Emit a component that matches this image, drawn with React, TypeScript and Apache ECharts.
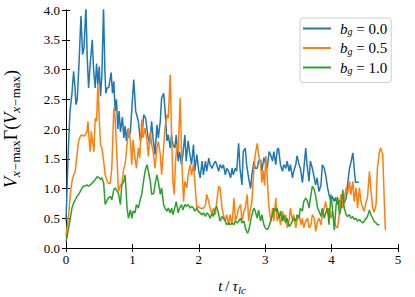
import React, { useEffect, useRef } from "react";
import * as echarts from "echarts";

const X_TICKS = [0, 1, 2, 3, 4, 5];
const Y_TICKS = [0, 0.5, 1, 1.5, 2, 2.5, 3, 3.5, 4];
const LEGEND_NAMES = ["0.0", "0.5", "1.0"];
const COLORS = ["#1f77b4", "#ff7f0e", "#2ca02c"];

const BG0: [number, number][] = [
  [0, 0.45], [0.03, 1.5], [0.06, 2.3], [0.09, 2.6], [0.115, 2.97], [0.135, 2.7], [0.15, 2.41], [0.17, 2.5],
  [0.2, 3.2], [0.225, 3.9], [0.25, 3.25], [0.27, 3.35], [0.3, 4.05], [0.32, 3.2], [0.34, 2.69], [0.365, 3.1],
  [0.395, 3.5], [0.415, 3.0], [0.44, 2.69], [0.46, 3.1], [0.48, 2.75], [0.5, 3.05], [0.52, 2.55], [0.54, 2.9],
  [0.565, 4.05], [0.585, 3.0], [0.6, 2.6], [0.62, 2.69], [0.645, 2.7], [0.68, 2.95], [0.7, 2.6], [0.72, 2.8],
  [0.74, 2.3], [0.76, 2.5], [0.78, 2.0], [0.8, 2.3], [0.82, 1.95], [0.85, 2.2], [0.87, 1.85], [0.89, 2.05],
  [0.91, 1.8], [0.93, 2.0], [0.95, 1.85], [0.97, 1.96], [1.02, 2.83], [1.05, 2.3], [1.09, 2.13], [1.12, 1.8],
  [1.15, 1.96], [1.17, 2.24], [1.2, 2.18], [1.23, 1.9], [1.26, 1.74], [1.29, 2.13], [1.31, 1.85], [1.34, 1.57],
  [1.37, 2.07], [1.39, 1.85], [1.42, 2.13], [1.44, 2.52], [1.47, 2.6], [1.49, 2.35], [1.52, 1.8], [1.54, 1.9],
  [1.57, 1.68], [1.59, 1.9], [1.61, 1.74], [1.64, 1.68], [1.66, 1.9], [1.69, 1.46], [1.71, 1.62], [1.74, 1.4],
  [1.76, 1.57], [1.79, 1.9], [1.81, 1.46], [1.84, 1.8], [1.86, 1.62], [1.89, 1.4], [1.92, 1.74], [1.94, 1.29],
  [1.97, 1.57], [2.0, 1.29], [2.02, 1.18], [2.05, 1.46], [2.07, 1.23], [2.1, 1.46], [2.12, 1.29], [2.15, 1.51],
  [2.17, 1.4], [2.2, 1.34], [2.22, 1.4], [2.25, 1.46], [2.27, 1.4], [2.3, 1.29], [2.32, 1.4], [2.35, 1.34],
  [2.37, 1.4], [2.4, 1.23], [2.42, 1.34], [2.45, 1.29], [2.48, 1.18], [2.5, 1.34], [2.52, 1.23], [2.55, 1.34],
  [2.57, 1.29], [2.6, 1.76], [2.62, 1.34], [2.65, 1.06], [2.67, 1.62], [2.7, 1.68], [2.72, 1.4], [2.75, 1.18],
  [2.78, 1.0], [2.8, 1.23], [2.83, 1.46], [2.85, 1.34], [2.88, 1.34], [2.9, 1.46], [2.93, 1.48], [2.95, 1.29],
  [2.98, 1.52], [3.01, 1.4], [3.03, 1.34], [3.06, 1.62], [3.08, 1.57], [3.11, 1.46], [3.13, 1.62], [3.16, 1.4],
  [3.18, 1.65], [3.2, 1.68], [3.23, 1.4], [3.26, 1.29], [3.28, 1.4], [3.31, 1.34], [3.33, 1.46], [3.36, 1.29],
  [3.38, 1.4], [3.41, 1.18], [3.43, 1.29], [3.46, 1.4], [3.48, 1.55], [3.51, 1.4], [3.53, 1.34], [3.56, 1.1],
  [3.58, 1.3], [3.61, 1.68], [3.63, 1.4], [3.66, 1.12], [3.68, 1.46], [3.71, 1.34], [3.73, 1.23], [3.76, 1.06],
  [3.78, 1.18], [3.81, 0.95], [3.84, 1.06], [3.86, 1.4], [3.89, 1.34], [3.91, 1.23], [3.94, 1.01], [3.96, 0.9],
  [3.99, 0.78], [4.01, 0.87], [4.04, 0.78], [4.06, 0.85], [4.09, 0.73], [4.12, 0.81], [4.14, 0.67], [4.17, 0.78],
  [4.19, 0.76], [4.22, 0.84], [4.24, 1.06], [4.27, 1.34], [4.29, 1.43], [4.32, 1.6], [4.34, 1.34], [4.36, 1.1],
  [4.41, 1.11],
];

const BG05: [number, number][] = [
  [0, 0.2], [0.04, 0.56], [0.065, 0.9], [0.09, 1.12], [0.115, 1.23], [0.14, 1.29], [0.166, 1.57], [0.19, 1.79],
  [0.216, 1.88], [0.24, 1.9], [0.266, 1.88], [0.29, 1.9], [0.316, 1.96], [0.33, 2.13], [0.35, 1.79], [0.366, 1.62],
  [0.38, 1.96], [0.4, 1.79], [0.42, 1.62], [0.44, 2.18], [0.46, 2.13], [0.48, 2.75], [0.5, 2.18], [0.52, 1.74],
  [0.54, 1.68], [0.567, 1.46], [0.59, 1.23], [0.62, 1.12], [0.64, 1.09], [0.667, 1.09], [0.69, 1.34], [0.72, 2.35],
  [0.74, 2.18], [0.77, 1.46], [0.79, 0.95], [0.82, 1.06], [0.84, 1.06], [0.87, 1.34], [0.89, 1.4], [0.92, 1.74],
  [0.94, 2.02], [0.97, 1.79], [0.99, 1.4], [1.01, 1.82], [1.04, 1.51], [1.06, 1.34], [1.09, 1.68], [1.11, 1.51],
  [1.14, 2.16], [1.16, 1.85], [1.19, 2.02], [1.22, 1.79], [1.24, 1.54], [1.27, 1.96], [1.29, 1.74], [1.32, 1.57],
  [1.34, 1.34], [1.37, 1.68], [1.39, 1.79], [1.42, 1.57], [1.44, 1.23], [1.47, 1.68], [1.49, 2.02], [1.52, 2.24],
  [1.54, 2.18], [1.57, 2.91], [1.59, 1.9], [1.61, 1.12], [1.63, 0.9], [1.65, 1.46], [1.67, 1.74], [1.69, 1.62],
  [1.72, 2.52], [1.74, 1.57], [1.77, 0.78], [1.79, 1.12], [1.82, 1.01], [1.84, 1.23], [1.87, 1.4], [1.89, 1.23],
  [1.92, 1.4], [1.94, 1.12], [1.97, 0.67], [1.99, 0.7], [2.02, 0.67], [2.05, 0.67], [2.07, 0.67], [2.1, 0.73],
  [2.12, 0.9], [2.15, 0.78], [2.17, 0.67], [2.2, 0.56], [2.22, 0.67], [2.25, 0.56], [2.27, 0.78], [2.3, 1.04],
  [2.32, 1.01], [2.35, 0.67], [2.37, 0.56], [2.4, 0.45], [2.42, 0.56], [2.45, 0.39], [2.47, 0.56], [2.5, 0.39],
  [2.53, 0.84], [2.55, 0.45], [2.58, 0.56], [2.6, 0.67], [2.63, 0.73], [2.65, 0.45], [2.68, 0.62], [2.7, 0.67],
  [2.73, 0.9], [2.75, 0.45], [2.78, 0.67], [2.8, 0.78], [2.83, 1.34], [2.85, 1.57], [2.88, 1.76], [2.9, 1.57],
  [2.93, 1.4], [2.95, 1.1], [2.97, 1.3], [2.99, 1.05], [3.01, 1.55], [3.03, 1.2], [3.05, 0.78], [3.07, 0.56],
  [3.09, 0.45], [3.11, 0.67], [3.13, 0.45], [3.16, 0.84], [3.18, 0.45], [3.21, 0.56], [3.23, 0.39], [3.26, 0.62],
  [3.28, 0.45], [3.31, 0.56], [3.33, 0.34], [3.36, 0.45], [3.38, 0.67], [3.41, 0.45], [3.43, 0.56], [3.46, 0.34],
  [3.48, 0.45], [3.51, 0.56], [3.54, 0.39], [3.56, 0.5], [3.58, 0.34], [3.61, 0.45], [3.64, 0.5], [3.66, 0.34],
  [3.69, 0.39], [3.71, 0.56], [3.74, 0.5], [3.76, 0.28], [3.79, 0.45], [3.81, 0.5], [3.84, 0.39], [3.86, 0.56],
  [3.89, 0.67], [3.91, 0.78], [3.94, 0.56], [3.96, 0.67], [3.99, 0.5], [4.01, 0.62], [4.04, 0.45], [4.07, 0.35],
  [4.09, 0.34], [4.12, 0.6], [4.14, 0.9], [4.17, 0.67], [4.19, 0.84], [4.22, 1.01], [4.24, 0.9], [4.27, 1.12],
  [4.29, 0.9], [4.32, 1.12], [4.34, 0.78], [4.37, 1.01], [4.39, 0.67], [4.42, 1.01], [4.44, 0.78], [4.47, 0.67],
  [4.49, 0.62], [4.52, 0.78], [4.54, 0.84], [4.57, 1.29], [4.59, 1.01], [4.62, 0.67], [4.64, 0.6], [4.67, 0.73],
  [4.69, 1.34], [4.72, 1.62], [4.74, 1.68], [4.77, 1.57], [4.79, 0.9], [4.81, 0.3],
];

const BG1: [number, number][] = [
  [0, 0.1], [0.04, 0.34], [0.065, 0.5], [0.09, 0.67], [0.115, 0.76], [0.14, 0.81], [0.166, 0.87], [0.19, 0.9],
  [0.216, 0.95], [0.24, 1.01], [0.266, 1.04], [0.29, 1.04], [0.316, 1.06], [0.34, 1.04], [0.366, 1.06], [0.39, 1.09],
  [0.42, 1.12], [0.44, 1.15], [0.47, 1.2], [0.5, 1.18], [0.52, 1.15], [0.54, 1.18], [0.567, 1.09], [0.59, 0.73],
  [0.62, 0.81], [0.64, 0.84], [0.667, 0.87], [0.69, 0.81], [0.72, 0.98], [0.74, 1.01], [0.77, 0.95], [0.79, 0.92],
  [0.82, 0.73], [0.84, 1.06], [0.87, 1.12], [0.89, 1.23], [0.92, 0.67], [0.94, 0.5], [0.97, 0.64], [0.99, 0.5],
  [1.01, 0.62], [1.04, 0.59], [1.06, 0.73], [1.09, 0.67], [1.11, 0.78], [1.14, 0.9], [1.16, 1.06], [1.19, 1.29],
  [1.22, 1.4], [1.24, 1.29], [1.27, 1.12], [1.29, 0.9], [1.32, 0.92], [1.34, 1.06], [1.37, 1.23], [1.39, 1.12],
  [1.42, 0.9], [1.44, 1.01], [1.47, 0.73], [1.49, 0.67], [1.52, 0.62], [1.54, 0.67], [1.57, 0.59], [1.59, 0.67],
  [1.61, 0.56], [1.63, 0.64], [1.66, 0.78], [1.69, 0.59], [1.71, 0.67], [1.74, 0.73], [1.76, 0.64], [1.79, 0.73],
  [1.81, 0.7], [1.84, 0.73], [1.87, 0.67], [1.89, 0.7], [1.92, 0.67], [1.94, 0.62], [1.97, 0.67], [1.99, 0.62],
  [2.02, 0.59], [2.05, 0.56], [2.07, 0.59], [2.1, 0.53], [2.12, 0.59], [2.15, 0.56], [2.17, 0.5], [2.2, 0.59],
  [2.22, 0.53], [2.25, 0.67], [2.27, 0.7], [2.3, 0.56], [2.32, 0.45], [2.35, 0.53], [2.37, 0.5], [2.4, 0.45],
  [2.42, 0.39], [2.45, 0.42], [2.47, 0.39], [2.5, 0.42], [2.53, 0.39], [2.55, 0.45], [2.58, 0.42], [2.6, 0.45],
  [2.63, 0.5], [2.65, 0.42], [2.68, 0.45], [2.7, 0.34], [2.73, 0.25], [2.75, 0.28], [2.78, 0.45], [2.8, 0.56],
  [2.83, 0.67], [2.85, 0.62], [2.88, 0.5], [2.9, 0.64], [2.93, 0.45], [2.95, 0.56], [2.98, 0.39], [3.0, 0.34],
  [3.03, 0.31], [3.05, 0.34], [3.08, 0.45], [3.11, 0.56], [3.13, 0.67], [3.16, 0.62], [3.18, 0.67], [3.21, 0.5],
  [3.23, 0.62], [3.26, 0.45], [3.28, 0.56], [3.31, 0.42], [3.33, 0.5], [3.36, 0.36], [3.38, 0.39], [3.41, 0.45],
  [3.43, 0.5], [3.46, 0.45], [3.48, 0.56], [3.51, 0.5], [3.53, 0.67], [3.56, 0.62], [3.58, 0.78], [3.61, 0.84],
  [3.64, 0.78], [3.66, 0.67], [3.69, 0.9], [3.71, 1.04], [3.74, 0.98], [3.76, 0.87], [3.79, 0.67], [3.81, 0.62],
  [3.84, 0.53], [3.86, 0.67], [3.89, 0.5], [3.91, 0.59], [3.94, 0.67], [3.96, 0.39], [3.99, 0.9], [4.01, 0.7],
  [4.04, 0.3], [4.07, 0.75], [4.09, 0.86], [4.12, 0.56], [4.14, 0.67], [4.17, 0.98], [4.19, 0.67], [4.22, 0.56],
  [4.24, 0.53], [4.27, 0.56], [4.29, 0.5], [4.32, 0.53], [4.34, 0.48], [4.37, 0.5], [4.39, 0.45], [4.42, 0.48],
  [4.44, 0.45], [4.47, 0.42], [4.49, 0.45], [4.52, 0.5], [4.54, 0.53], [4.57, 0.64], [4.59, 0.56], [4.62, 0.5],
  [4.64, 0.45], [4.67, 0.42], [4.69, 0.39], [4.72, 0.39],
];

const SERIES_DATA = [BG0, BG05, BG1];
const SERIF = "Liberation Serif";

export default function App() {
  const ref = useRef<HTMLDivElement>(null);
  useEffect(() => {
    if (!ref.current) return;
    const chart = echarts.init(ref.current, undefined, { renderer: "svg" });
    const axisLine = { show: true, lineStyle: { color: "#000", width: 1 } };
    const tick = { show: true, inside: true, length: 4, lineStyle: { color: "#000", width: 1 } };
    const names = LEGEND_NAMES.map((v) => "b_g = " + v);
    chart.setOption({
      animation: false,
      backgroundColor: "#fff",
      textStyle: { fontFamily: SERIF, color: "#000" },
      grid: { left: 66, right: 17, top: 10, bottom: 49, outerBoundsMode: "none", containLabel: false },
      legend: {
        orient: "vertical",
        left: 300,
        top: 18,
        data: names.map((n) => ({ name: n, icon: "rect" })),
        itemWidth: 28,
        itemHeight: 2,
        itemGap: 4,
        padding: [3, 4, 7, 3],
        backgroundColor: "rgba(255,255,255,0.8)",
        borderColor: "#cccccc",
        borderWidth: 1,
        borderRadius: 3,
        formatter: (name: string) => {
          const v = name.split("= ")[1];
          return `{i|b}{s|g}{n| = ${v}}`;
        },
        textStyle: {
          fontFamily: SERIF,
          padding: [0, 0, 0, 4],
          rich: {
            i: { fontFamily: SERIF, fontStyle: "italic", fontSize: 15, color: "#000", lineHeight: 16 },
            s: { fontFamily: SERIF, fontStyle: "italic", fontSize: 10, color: "#000", lineHeight: 10, verticalAlign: "bottom" },
            n: { fontFamily: SERIF, fontSize: 15, color: "#000", lineHeight: 16 },
          },
        },
      },
      xAxis: [
        {
          type: "value",
          min: X_TICKS[0],
          max: X_TICKS[X_TICKS.length - 1],
          interval: 1,
          axisLine,
          axisTick: tick,
          splitLine: { show: false },
          axisLabel: { color: "#000", fontFamily: SERIF, fontSize: 13, margin: 5 },
          name: "{t|t} {n|/} {t|τ}{s|lc}",
          nameLocation: "middle",
          nameGap: 29,
          nameTextStyle: {
            fontFamily: SERIF,
            rich: {
              t: { fontFamily: SERIF, fontStyle: "italic", fontSize: 15, color: "#000", lineHeight: 18 },
              n: { fontFamily: SERIF, fontSize: 15, color: "#000", lineHeight: 18 },
              s: { fontFamily: SERIF, fontStyle: "italic", fontSize: 11, color: "#000", lineHeight: 11, verticalAlign: "bottom" },
            },
          },
        },
        {
          type: "value",
          position: "top",
          min: X_TICKS[0],
          max: X_TICKS[X_TICKS.length - 1],
          interval: 1,
          axisLine,
          axisTick: tick,
          axisLabel: { show: false },
          splitLine: { show: false },
        },
      ],
      yAxis: [
        {
          type: "value",
          min: Y_TICKS[0],
          max: Y_TICKS[Y_TICKS.length - 1],
          interval: 0.5,
          axisLine,
          axisTick: tick,
          splitLine: { show: false },
          axisLabel: {
            color: "#000",
            fontFamily: SERIF,
            fontSize: 13,
            margin: 6,
            formatter: (v: number) => v.toFixed(1),
          },
          name: "{v|V}{s|x−}{r|max}{g|Γ(}{v|V}{s|x−}{r|max}{g|)}",
          nameLocation: "middle",
          nameRotate: 90,
          nameGap: 44,
          nameTextStyle: {
            fontFamily: SERIF,
            rich: {
              v: { fontFamily: SERIF, fontStyle: "italic", fontSize: 18, color: "#000", lineHeight: 22 },
              g: { fontFamily: SERIF, fontSize: 18, color: "#000", lineHeight: 22 },
              s: { fontFamily: SERIF, fontStyle: "italic", fontSize: 13, color: "#000", lineHeight: 13, verticalAlign: "bottom" },
              r: { fontFamily: SERIF, fontSize: 13, color: "#000", lineHeight: 13, verticalAlign: "bottom" },
            },
          },
        },
        {
          type: "value",
          position: "right",
          min: Y_TICKS[0],
          max: Y_TICKS[Y_TICKS.length - 1],
          interval: 0.5,
          axisLine,
          axisTick: tick,
          axisLabel: { show: false },
          splitLine: { show: false },
        },
      ],
      series: SERIES_DATA.map((d, i) => ({
        name: names[i],
        type: "line",
        xAxisIndex: 0,
        yAxisIndex: 0,
        data: d,
        symbol: "none",
        color: COLORS[i],
        lineStyle: { color: COLORS[i], width: 1.5 },
        clip: true,
      })),
    });
    return () => chart.dispose();
  }, []);
  return <div ref={ref} style={{ width: 415, height: 297, position: "absolute", left: 0, top: 0 }} />;
}
